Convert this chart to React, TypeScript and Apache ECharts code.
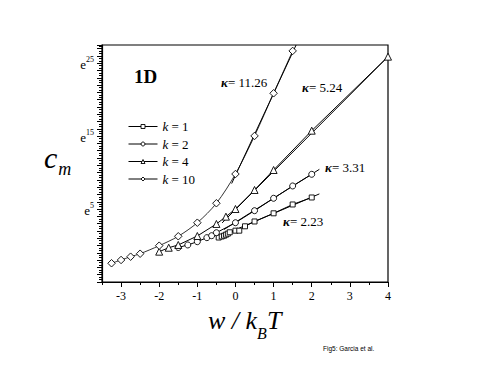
import React, { useEffect, useRef } from "react";
import * as echarts from "echarts";

const SERIF = "Liberation Serif, Times New Roman, serif";

const legendNames = ["k = 1", "k = 2", "k = 4", "k = 10"];

const k1W = [-0.44, -0.36, -0.3, -0.25, -0.2, -0.15, 0, 0.1, 0.25, 0.5, 1.0, 1.5, 2.0];
const k1V = [1.1, 1.24, 1.35, 1.49, 1.63, 1.82, 2.04, 2.04, 2.64, 3.3, 4.42, 5.63, 6.59];

const k2W = [-1.5, -1.25, -1, -0.75, -0.625, -0.5, 0, 0.5, 1, 1.5, 2];
const k2V = [-0.27, 0.08, 0.53, 1.08, 1.35, 1.76, 3.13, 4.78, 6.48, 8.17, 9.77];

const k4W = [-2, -1.75, -1.5, -1, -0.5, -0.25, 0, 0.5, 1, 2, 4];
const k4V = [-0.84, -0.3, 0.08, 1.31, 2.96, 3.96, 5.01, 7.62, 10.36, 15.75, 25.9];

const k10W = [-3.25, -3, -2.75, -2.5, -2, -1.5, -1, -0.5, 0, 0.5, 1, 1.5];
const k10V = [-2.43, -1.98, -1.53, -1.12, -0.02, 1.27, 3.13, 5.8, 9.81, 15.03, 20.88, 26.69];

// fitted straight lines (start / end points)
const fit1 = [[-0.3, 1.5], [2.2, 7.08]];
const fit2 = [[-0.3, 2.2], [2.2, 10.45]];
const fit4 = [[-0.35, 3.1], [4, 25.9]];
const fit10 = [[-0.1, 8.5], [1.59, 27.5]];

const kappaLabels = ["11.26", "5.24", "3.31", "2.23"];

const xMajor = [-3, -2, -1, 0, 1, 2, 3, 4];
const xMinor = [-3.5, -2.5, -1.5, -0.5, 0.5, 1.5, 2.5, 3.5];
const yLabels = [5, 15, 25];

const zip = (a: number[], b: number[]) => a.map((x, i) => [x, b[i]]);

export default function App() {
  const ref = useRef<HTMLDivElement>(null);
  useEffect(() => {
    const chart = echarts.init(ref.current!, null, { renderer: "svg" });
    const mk = (name: string, w: number[], v: number[], symbol: string, size: number, lw = 1, smooth: any = false) => ({
      name,
      type: "line",
      data: zip(w, v),
      symbol,
      symbolSize: size,
      smooth,
      itemStyle: { color: "#fff", borderColor: "#000", borderWidth: 0.9 },
      lineStyle: { color: "#000", width: lw },
      z: 3,
    });
    const fit = (d: number[][]) => ({
      type: "line",
      data: d,
      symbol: "none",
      silent: true,
      lineStyle: { color: "#000", width: 1 },
      z: 2,
    });
    const kappa = (txt: string, x: number, y: number) => ({
      type: "text",
      x,
      y,
      style: {
        text: "{i|κ}= " + txt,
        font: `13px ${SERIF}`,
        fill: "#000",
        textVerticalAlign: "middle",
        rich: { i: { fontStyle: "italic", fontWeight: "bold", fontSize: 13, fontFamily: SERIF } },
      },
    });
    chart.setOption({
      animation: false,
      grid: { left: 102, right: 103, top: 45, bottom: 97, show: true, borderColor: "#000", borderWidth: 1.2 },
      xAxis: [
        {
          type: "value",
          min: -3.5,
          max: 4,
          axisLine: { show: true, onZero: false, lineStyle: { color: "#000", width: 1.2 } },
          axisTick: { show: true, customValues: xMajor, length: 5, lineStyle: { color: "#000" } },
          axisLabel: { customValues: xMajor, color: "#000", fontFamily: SERIF, fontSize: 12, margin: 8 },
          splitLine: { show: false },
        },
        {
          type: "value",
          position: "bottom",
          min: -3.5,
          max: 4,
          axisLine: { show: false, onZero: false },
          axisTick: { show: true, customValues: xMinor, length: 3, lineStyle: { color: "#000" } },
          axisLabel: { show: false },
          splitLine: { show: false },
        },
      ],
      yAxis: {
        type: "value",
        min: -5,
        max: 27.5,
        interval: 1,
        axisLine: { show: true, onZero: false, lineStyle: { color: "#000", width: 1.2 } },
        axisTick: { show: true, length: 5, lineStyle: { color: "#000" } },
        minorTick: { show: true, splitNumber: 3, length: 3, lineStyle: { color: "#000" } },
        axisLabel: {
          margin: 8,
          showMinLabel: false,
          showMaxLabel: false,
          formatter: (v: number) => (yLabels.includes(v) ? `{e|e}{s|${v}}` : ""),
          rich: {
            e: { fontFamily: SERIF, fontSize: 13, color: "#000", lineHeight: 16, verticalAlign: "bottom" },
            s: { fontFamily: SERIF, fontSize: 8, color: "#000", lineHeight: 16, verticalAlign: "top" },
          },
        },
        splitLine: { show: false },
      },
      legend: {
        data: legendNames,
        orient: "vertical",
        left: 123,
        top: 115,
        itemWidth: 29,
        itemHeight: 5,
        itemGap: 4.5,
        itemStyle: { color: "#fff", borderColor: "#000", borderWidth: 0.9 },
        lineStyle: { color: "#000", width: 1 },
        formatter: (n: string) => `{i|k}{n|${n.slice(1)}}`,
        textStyle: {
          fontFamily: SERIF,
          fontSize: 13,
          lineHeight: 13,
          color: "#000",
          rich: {
            i: { fontFamily: SERIF, fontSize: 13, lineHeight: 13, fontStyle: "italic", color: "#000" },
            n: { fontFamily: SERIF, fontSize: 13, lineHeight: 13, color: "#000" },
          },
        },
      },
      series: [
        mk(legendNames[0], k1W, k1V, "rect", 5),
        mk(legendNames[1], k2W, k2V, "circle", 6),
        mk(legendNames[2], k4W, k4V, "triangle", 7),
        mk(legendNames[3], k10W, k10V, "diamond", 7.5, 0.8, 0.3),
        fit(fit1),
        fit(fit2),
        fit(fit4),
        fit(fit10),
      ],
      graphic: [
        { type: "text", x: 134, y: 76, style: { text: "1D", font: `bold 19px ${SERIF}`, fill: "#000", textVerticalAlign: "middle" } },
        kappa(kappaLabels[0], 221, 82),
        kappa(kappaLabels[1], 302, 87),
        kappa(kappaLabels[2], 325, 167),
        kappa(kappaLabels[3], 283, 221),
        {
          type: "text",
          x: 44,
          y: 160,
          style: {
            text: "{c|c}{m|m}",
            fill: "#000",
            textVerticalAlign: "middle",
            rich: {
              c: { fontFamily: SERIF, fontStyle: "italic", fontSize: 30, lineHeight: 36, verticalAlign: "top" },
              m: { fontFamily: SERIF, fontStyle: "italic", fontSize: 18, lineHeight: 36, verticalAlign: "bottom", padding: [0, 0, 0, 1] },
            },
          },
        },
        {
          type: "text",
          x: 208,
          y: 324,
          style: {
            text: "{a|w / k}{b|B}{a|T}",
            fill: "#000",
            textVerticalAlign: "middle",
            rich: {
              a: { fontFamily: SERIF, fontStyle: "italic", fontSize: 26, lineHeight: 34, verticalAlign: "top" },
              b: { fontFamily: SERIF, fontStyle: "italic", fontSize: 16, lineHeight: 34, verticalAlign: "bottom" },
            },
          },
        },
        { type: "text", x: 323, y: 348, style: { text: "Fig5: Garcia et al.", font: "6.5px Liberation Sans, Arial, sans-serif", fill: "#000", textVerticalAlign: "middle" } },
      ],
    });
    return () => chart.dispose();
  }, []);
  return <div ref={ref} style={{ position: "absolute", left: 0, top: 0, width: 491, height: 379 }} />;
}
